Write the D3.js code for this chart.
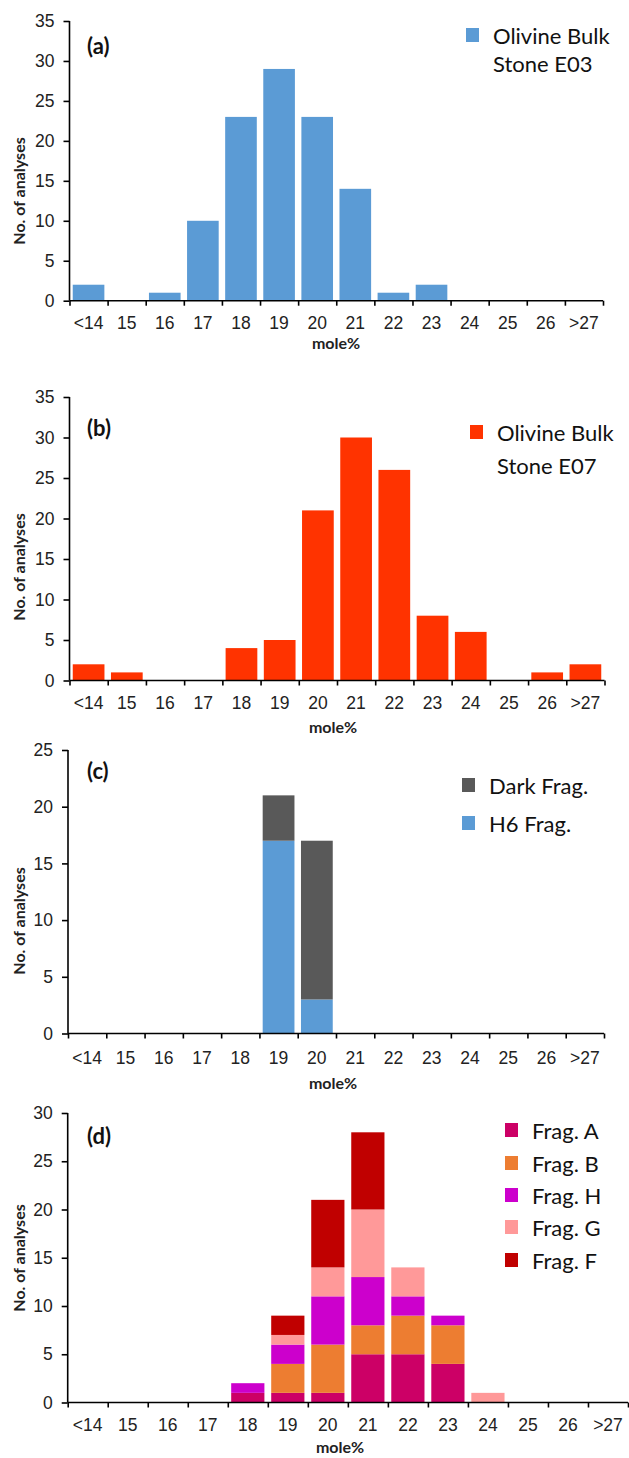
<!DOCTYPE html>
<html>
<head>
<meta charset="utf-8">
<script src="https://cdn.jsdelivr.net/npm/d3@7"></script>
<style>
  body { margin: 0; background: #fff; }
  svg { display: block; font-family: Lato, "Open Sans", sans-serif; }
  .axis path, .axis line { stroke: #000; stroke-width: 1.6px; }
  .axis text { font-size: 17.5px; fill: #222; }
  .axisTitle { font-size: 16px; font-weight: bold; fill: #222; }
  .panelLabel { font-size: 22px; font-weight: bold; fill: #111; }
  .legendText { fill: #111; }
</style>
</head>
<body>
<script>
//mole% bins shared by all four panels
var categories = ["<14", "15", "16", "17", "18", "19", "20", "21", "22", "23", "24", "25", "26", ">27"];

//(a) olivine, bulk stone E03
var countsE03 = [2, 0, 1, 10, 23, 29, 23, 14, 1, 2, 0, 0, 0, 0];
//(b) olivine, bulk stone E07
var countsE07 = [2, 1, 0, 0, 4, 5, 21, 30, 26, 8, 6, 0, 1, 2];
//(c) fragments, stacked (H6 at bottom)
var h6Frag   = [0, 0, 0, 0, 0, 17, 3, 0, 0, 0, 0, 0, 0, 0];
var darkFrag = [0, 0, 0, 0, 0, 4, 14, 0, 0, 0, 0, 0, 0, 0];
//(d) fragments A, B, H, G, F stacked bottom to top
var fragA = [0, 0, 0, 0, 1, 1, 1, 5, 5, 4, 0, 0, 0, 0];
var fragB = [0, 0, 0, 0, 0, 3, 5, 3, 4, 4, 0, 0, 0, 0];
var fragH = [0, 0, 0, 0, 1, 2, 5, 5, 2, 1, 0, 0, 0, 0];
var fragG = [0, 0, 0, 0, 0, 1, 3, 7, 3, 0, 1, 0, 0, 0];
var fragF = [0, 0, 0, 0, 0, 2, 7, 8, 0, 0, 0, 0, 0, 0];

var width = 629, height = 1458;

var svg = d3.select("body")
  .append("svg")
  .attr("width", width)
  .attr("height", height);

svg.append("rect").attr("width", width).attr("height", height).attr("fill", "#fff");

//build a table of rows for d3.stack
function makeRows(seriesList, keys){
  return categories.map(function(c, i){
    var row = {cat: c};
    keys.forEach(function(k, j){ row[k] = seriesList[j][i]; });
    return row;
  });
}

//draw one histogram panel
function drawPanel(p){
  var g = svg.append("g");

  var x = d3.scaleBand()
    .domain(categories)
    .range([p.x0, p.x1])
    .paddingInner(0.17)
    .paddingOuter(0.085);

  //linear scale over bin edges, for the boundary ticks
  var xEdge = d3.scaleLinear()
    .domain([0, categories.length])
    .range([p.x0, p.x1]);

  var y = d3.scaleLinear()
    .domain([0, p.yMax])
    .range([p.yBottom, p.yTop]);

  var rows = makeRows(p.series, p.keys);
  var stacked = d3.stack().keys(p.keys)(rows);

  g.selectAll(".layer")
    .data(stacked)
    .enter()
    .append("g")
    .attr("fill", function(d, i){ return p.colors[i]; })
    .selectAll("rect")
    .data(function(d){ return d; })
    .enter()
    .filter(function(d){ return d[1] - d[0] > 0; })
    .append("rect")
    .attr("x", function(d){ return x(d.data.cat); })
    .attr("width", x.bandwidth())
    .attr("y", function(d){ return y(d[1]); })
    .attr("height", function(d){ return y(d[0]) - y(d[1]); });

  //y axis
  g.append("g")
    .attr("class", "axis")
    .attr("transform", "translate(" + p.x0 + ",0)")
    .call(d3.axisLeft(y).tickValues(d3.range(0, p.yMax + 1, 5)).tickSize(6).tickPadding(9))
    .call(function(s){ s.select(".domain").attr("d", "M0," + p.yTop + "V" + p.yBottom); });

  //x axis: edge ticks
  g.append("g")
    .attr("class", "axis")
    .attr("transform", "translate(0," + p.yBottom + ")")
    .call(d3.axisBottom(xEdge).tickValues(d3.range(0, categories.length + 1)).tickSize(5).tickFormat(""))
    .call(function(s){ s.select(".domain").attr("d", "M" + p.x0 + ",0H" + p.x1); });

  //x axis: labels centred in bins
  g.append("g")
    .attr("class", "axis")
    .attr("transform", "translate(0," + p.yBottom + ")")
    .call(d3.axisBottom(x).tickSize(0).tickPadding(p.labelPad))
    .call(function(s){ s.select(".domain").remove(); });

  //axis titles
  g.append("text")
    .attr("class", "axisTitle")
    .attr("text-anchor", "middle")
    .attr("transform", "translate(25," + p.yLabelY + ") rotate(-90)")
    .text("No. of analyses");

  g.append("text")
    .attr("class", "axisTitle")
    .attr("text-anchor", "middle")
    .attr("x", p.xLabelX)
    .attr("y", p.xLabelY)
    .text("mole%");

  //panel letter
  g.append("text")
    .attr("class", "panelLabel")
    .attr("x", 87)
    .attr("y", p.letterY)
    .attr("dominant-baseline", "central")
    .text(p.letter);

  //legend
  var leg = g.append("g");
  p.legend.forEach(function(item){
    if (item.color){
      leg.append("rect")
        .attr("x", p.legX)
        .attr("y", item.y - 7)
        .attr("width", 13)
        .attr("height", 14)
        .attr("fill", item.color);
    }
    leg.append("text")
      .attr("class", "legendText")
      .attr("x", p.legX + 27)
      .attr("y", item.y)
      .attr("dominant-baseline", "central")
      .style("font-size", p.legSize + "px")
      .text(item.text);
  });
}

var blue = "#5B9BD5", red = "#FF3300", dark = "#595959";
var fragColors = ["#CC0066", "#ED7D31", "#CC00CC", "#FF9999", "#C00000"];

drawPanel({
  letter: "(a)", series: [countsE03], keys: ["e03"], colors: [blue],
  x0: 69.5, x1: 603, yTop: 21, yBottom: 300.7, yMax: 35, labelPad: 16,
  yLabelY: 191, xLabelX: 336, xLabelY: 349, letterY: 45,
  legX: 466, legSize: 22,
  legend: [{text: "Olivine Bulk", y: 35, color: blue}, {text: "Stone E03", y: 63}]
});

drawPanel({
  letter: "(b)", series: [countsE07], keys: ["e07"], colors: [red],
  x0: 69.5, x1: 604.5, yTop: 397, yBottom: 680.5, yMax: 35, labelPad: 16,
  yLabelY: 567, xLabelX: 333, xLabelY: 733, letterY: 427,
  legX: 470, legSize: 22,
  legend: [{text: "Olivine Bulk", y: 432, color: red}, {text: "Stone E07", y: 465}]
});

drawPanel({
  letter: "(c)", series: [h6Frag, darkFrag], keys: ["h6", "dark"], colors: [blue, dark],
  x0: 68, x1: 604, yTop: 750, yBottom: 1033.5, yMax: 25, labelPad: 18,
  yLabelY: 921, xLabelX: 333, xLabelY: 1089, letterY: 770,
  legX: 462, legSize: 22,
  legend: [{text: "Dark Frag.", y: 785, color: dark}, {text: "H6 Frag.", y: 823, color: blue}]
});

drawPanel({
  letter: "(d)", series: [fragA, fragB, fragH, fragG, fragF], keys: ["A", "B", "H", "G", "F"], colors: fragColors,
  x0: 67.7, x1: 628, yTop: 1113, yBottom: 1402.5, yMax: 30, labelPad: 16,
  yLabelY: 1258, xLabelX: 340, xLabelY: 1453, letterY: 1135,
  legX: 505, legSize: 22,
  legend: [
    {text: "Frag. A", y: 1130, color: fragColors[0]},
    {text: "Frag. B", y: 1163, color: fragColors[1]},
    {text: "Frag. H", y: 1195, color: fragColors[2]},
    {text: "Frag. G", y: 1227, color: fragColors[3]},
    {text: "Frag. F", y: 1260, color: fragColors[4]}
  ]
});
</script>
</body>
</html>
